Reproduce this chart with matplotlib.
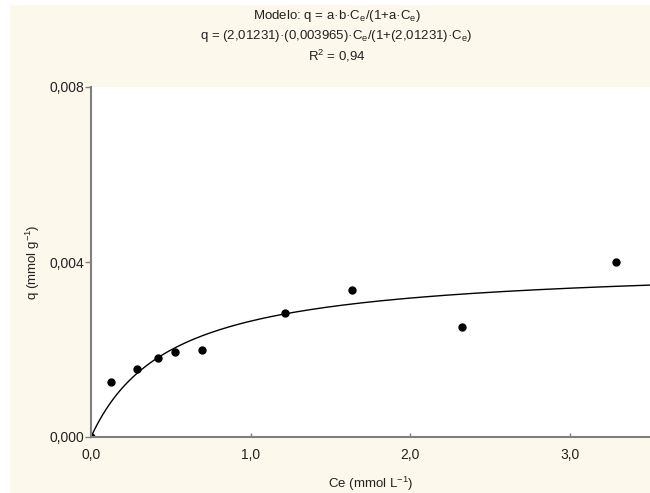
import numpy as np
import matplotlib
matplotlib.use('Agg')
import matplotlib.pyplot as plt
from matplotlib.patches import Rectangle

plt.rcParams['font.family'] = ['Liberation Sans', 'DejaVu Sans']
plt.rcParams['mathtext.fontset'] = 'custom'
plt.rcParams['mathtext.rm'] = 'Liberation Sans'
plt.rcParams['mathtext.it'] = 'Liberation Sans'

# experimental points (Ce in mmol/L, q in mmol/g)
ce = [0.0, 0.125, 0.29, 0.42, 0.525, 0.696, 1.217, 1.633, 2.32, 3.29]
q = [0.0, 0.00126, 0.00156, 0.00180, 0.00194, 0.00199, 0.00283, 0.00337, 0.00251, 0.00401]

# Langmuir parameters
a = 2.01231
b = 0.003965
r2 = 0.94

xticks = [0.0, 1.0, 2.0, 3.0]
yticks = [0.0, 0.004, 0.008]

def langmuir(x):
    return a * b * x / (1 + a * x)

fig = plt.figure(figsize=(6.5, 4.93), dpi=100, facecolor='white')
fig.patches.append(Rectangle((10 / 650, 0), 1, 1 - 5 / 493, transform=fig.transFigure,
                             facecolor='#fdf8ec', edgecolor='none', zorder=-10))

ax = fig.add_axes([91 / 650, 56 / 493, 559 / 650, 350 / 493])
ax.set_facecolor('white')

xs = np.linspace(0, 3.5, 300)
ax.plot(xs, langmuir(xs), color='black', lw=1.0)
ax.plot(ce, q, 'o', color='black', ms=5, clip_on=True)

ax.set_xlim(0, 3.5)
ax.set_ylim(0, 0.008)
ax.set_xticks(xticks)
ax.set_xticklabels([('%.1f' % t).replace('.', ',') for t in xticks])
ax.set_yticks(yticks)
ax.set_yticklabels([('%.3f' % t).replace('.', ',') for t in yticks])

for s in ['top', 'right']:
    ax.spines[s].set_visible(False)
for s in ['left', 'bottom']:
    ax.spines[s].set_color('#7f7f7f')
    ax.spines[s].set_linewidth(1.5)
ax.tick_params(axis='y', direction='out', length=4, width=1, colors='#7f7f7f',
               labelcolor='#222222', labelsize=10, pad=1)
ax.tick_params(axis='x', direction='in', length=3, width=1, colors='#7f7f7f',
               labelcolor='#222222', labelsize=10, pad=8)

ax.set_xlabel('Ce (mmol L$^{-1}$)', fontsize=9.5, color='#222222', labelpad=9)
ax.set_ylabel('q (mmol g$^{-1}$)', fontsize=9.5, color='#222222', labelpad=5)

fig.text(0.518, 1 - 16 / 493, 'Modelo: q = a·b·C$_e$/(1+a·C$_e$)',
         ha='center', va='center', fontsize=9.5, color='#222222')
fig.text(0.518, 1 - 36 / 493,
         'q = (%s)·(%s)·C$_e$/(1+(%s)·C$_e$)' % (str(a).replace('.', ','),
                                                 str(b).replace('.', ','),
                                                 str(a).replace('.', ',')),
         ha='center', va='center', fontsize=9.5, color='#222222')
fig.text(0.518, 1 - 56 / 493, 'R$^2$ = %s' % str(r2).replace('.', ','),
         ha='center', va='center', fontsize=9.5, color='#222222')

fig.savefig('out.png', dpi=100, facecolor=fig.get_facecolor())
